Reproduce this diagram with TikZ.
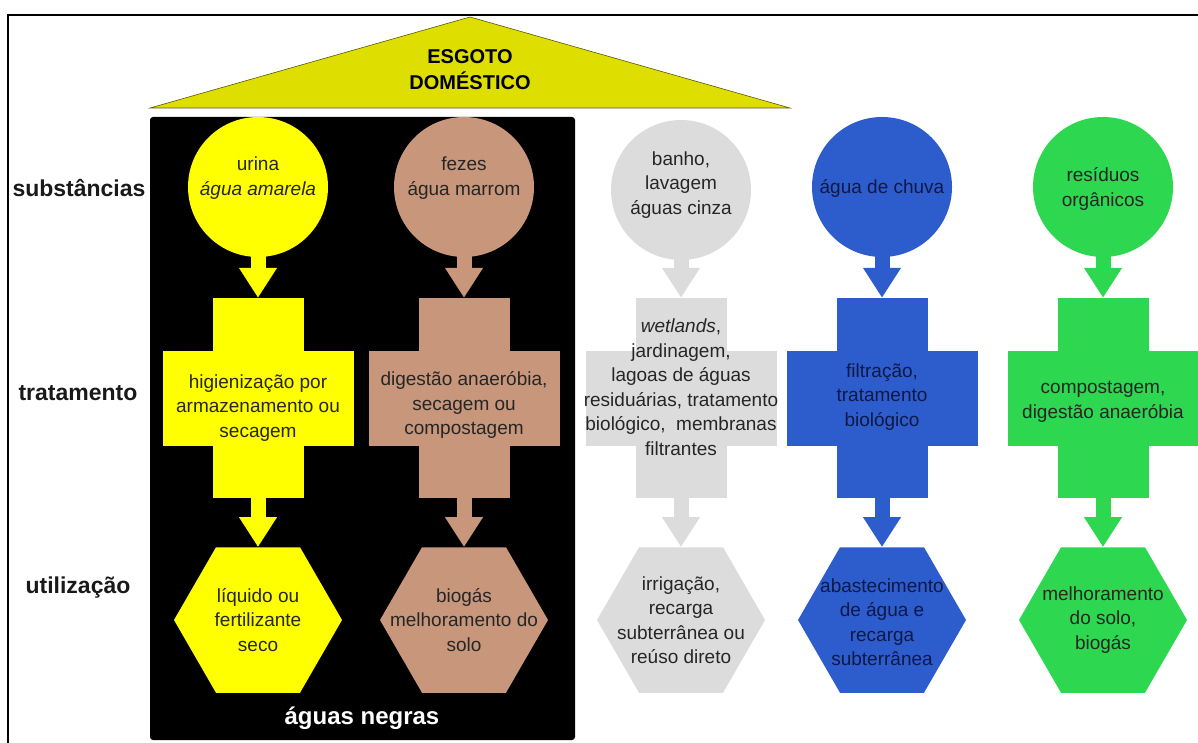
\documentclass[tikz,border=0pt]{standalone}
\usepackage{fontspec}
\setmainfont{Liberation Sans}
\usetikzlibrary{shapes.geometric,arrows.meta}
\definecolor{amarelo}{RGB}{255,255,0}
\definecolor{marrom}{RGB}{200,150,122}
\definecolor{cinza}{RGB}{220,220,220}
\definecolor{azul}{RGB}{45,92,204}
\definecolor{verde}{RGB}{45,215,80}
\definecolor{telhado}{RGB}{222,222,0}
\definecolor{marinho}{RGB}{15,25,70}
\begin{document}
\begin{tikzpicture}[x=1pt,y=-1pt,
    txt/.style={align=center,font=\fontsize{19}{24.5}\selectfont,text=black!85},
    rotulo/.style={font=\fontsize{23}{27}\selectfont\bfseries,text=black!90},
    subst/.style={circle,minimum size=140pt,inner sep=0pt},
    haste/.style={minimum width=91pt,minimum height=200pt,inner sep=0pt},
    braco/.style={minimum width=191pt,minimum height=95pt,inner sep=0pt},
    uso/.style={regular polygon,regular polygon sides=6,minimum size=168pt,inner sep=0pt},
    seta/.style={line width=15pt,-{Triangle[width=36pt,length=30pt]}}]
    \useasboundingbox (0,0) rectangle (1198,743);
    \draw[line width=1.5pt] (8,743) -- (8,15) -- (1198,15);
    \filldraw[fill=telhado,draw=black!60!telhado,line width=0.6pt]
        (150,108) coordinate (E) -- (470,17) coordinate (T) -- (790,108) coordinate (D) -- cycle;
    \node[align=center,font=\fontsize{20}{26}\selectfont\bfseries] (esgoto) at (470,70) {ESGOTO\\DOMÉSTICO};
    \fill[black,rounded corners=3pt] (150,117) rectangle (575,740);
    \node[font=\fontsize{24}{28}\selectfont\bfseries,text=white] (negras) at (362,718) {águas negras};
    \node[rotulo] (l1) at (79,188) {substâncias};
    \node[rotulo] (l2) at (78,393) {tratamento};
    \node[rotulo] (l3) at (78,588) {utilização};
    % urina
    \node[subst,fill=amarelo] (u1) at (258,187) {};
    \node[haste,fill=amarelo] (t1) at (258,398) {};
    \node[braco,fill=amarelo] (b1) at (258,398) {};
    \node[uso,fill=amarelo] (h1) at (258,620) {};
    \draw[seta,amarelo] ([yshift=3pt]u1.south) -- (t1.north);
    \draw[seta,amarelo] (t1.south) -- (h1.north);
    \node[txt] at (258,178) {urina\\\textit{água amarela}};
    \node[txt] at (258,408) {higienização por\\armazenamento ou\\secagem};
    \node[txt] at (258,620) {líquido ou\\fertilizante\\seco};
    % fezes
    \node[subst,fill=marrom] (u2) at (464,187) {};
    \node[haste,fill=marrom] (t2) at (464,398) {};
    \node[braco,fill=marrom] (b2) at (464,398) {};
    \node[uso,fill=marrom] (h2) at (464,620) {};
    \draw[seta,marrom] ([yshift=3pt]u2.south) -- (t2.north);
    \draw[seta,marrom] (t2.south) -- (h2.north);
    \node[txt] at (464,178) {fezes\\água marrom};
    \node[txt] at (464,405) {digestão anaeróbia,\\secagem ou\\compostagem};
    \node[txt] at (464,620) {biogás\\melhoramento do\\solo};
    % aguas cinza
    \node[subst,fill=cinza] (u3) at (681,190) {};
    \node[haste,fill=cinza] (t3) at (681,398) {};
    \node[braco,fill=cinza] (b3) at (681,398) {};
    \node[uso,fill=cinza] (h3) at (681,620) {};
    \draw[seta,cinza] ([yshift=3pt]u3.south) -- (t3.north);
    \draw[seta,cinza] (t3.south) -- (h3.north);
    \node[txt] at (681,185) {banho,\\lavagem\\águas cinza};
    \node[txt] at (681,387) {\textit{wetlands},\\jardinagem,\\lagoas de águas\\residuárias, tratamento\\biológico,\ \ membranas\\filtrantes};
    \node[txt] at (681,620) {irrigação,\\recarga\\subterrânea ou\\reúso direto};
    % chuva
    \node[subst,fill=azul] (u4) at (882,187) {};
    \node[haste,fill=azul] (t4) at (882,398) {};
    \node[braco,fill=azul] (b4) at (882,398) {};
    \node[uso,fill=azul] (h4) at (882,620) {};
    \draw[seta,azul] ([yshift=3pt]u4.south) -- (t4.north);
    \draw[seta,azul] (t4.south) -- (h4.north);
    \node[txt,text=marinho] at (882,188) {água de chuva};
    \node[txt,text=marinho] at (882,397) {filtração,\\tratamento\\biológico};
    \node[txt,text=marinho] at (882,622) {abastecimento\\de água e\\recarga\\subterrânea};
    % residuos
    \node[subst,fill=verde] (u5) at (1103,187) {};
    \node[haste,fill=verde] (t5) at (1103,398) {};
    \node[braco,fill=verde] (b5) at (1103,398) {};
    \node[uso,fill=verde] (h5) at (1103,620) {};
    \draw[seta,verde] ([yshift=3pt]u5.south) -- (t5.north);
    \draw[seta,verde] (t5.south) -- (h5.north);
    \node[txt] at (1103,189) {resíduos\\orgânicos};
    \node[txt] at (1103,402) {compostagem,\\digestão anaeróbia};
    \node[txt] at (1103,620) {melhoramento\\do solo,\\biogás};
\end{tikzpicture}
\end{document}
